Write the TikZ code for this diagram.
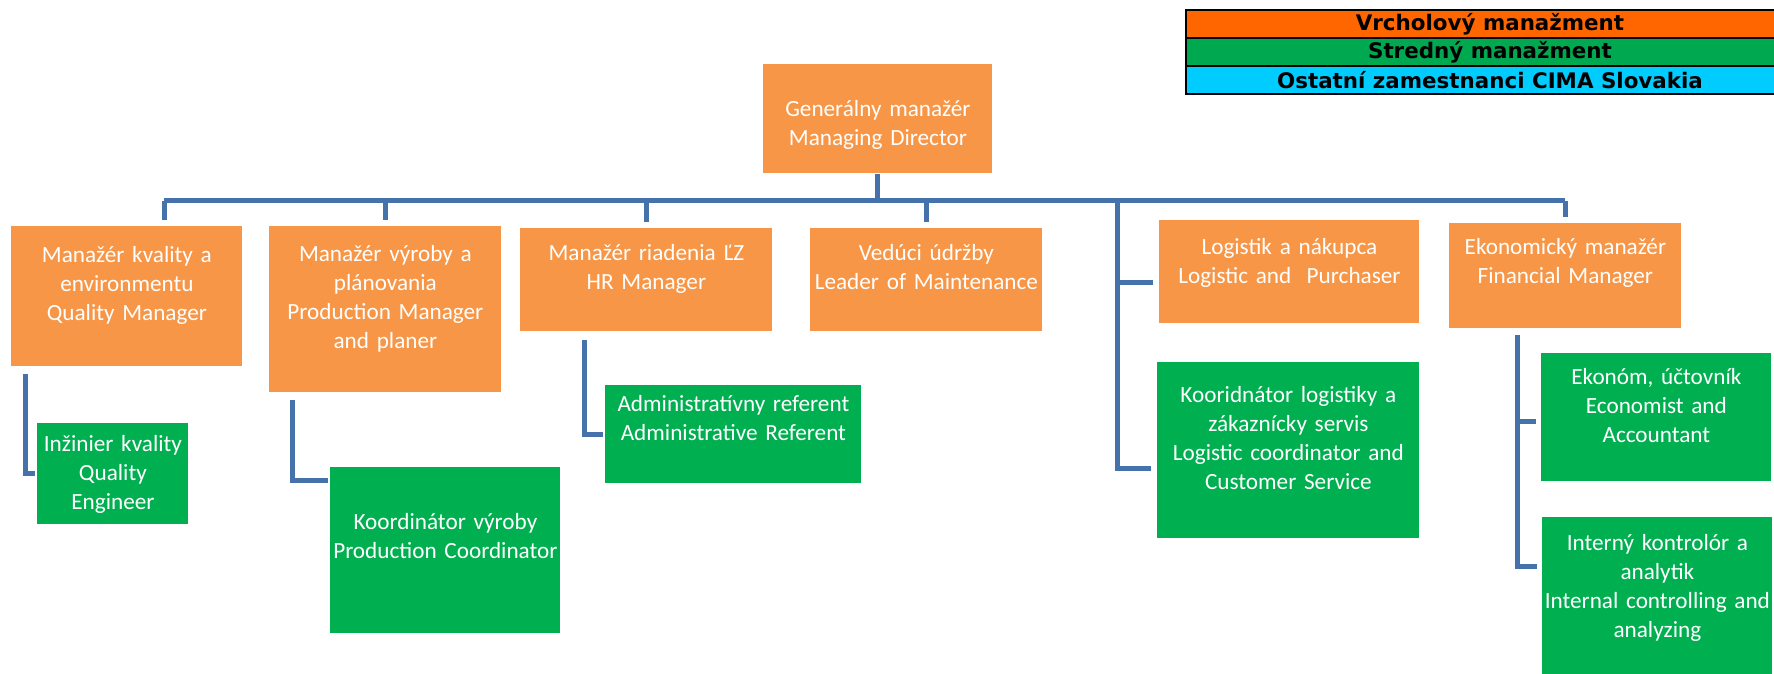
\documentclass[tikz,border=0pt]{standalone}
\usepackage{fontspec}
\setmainfont{Carlito}
\newfontfamily\legendfont{DejaVu Sans}
\usetikzlibrary{positioning,calc}
\definecolor{boxorange}{RGB}{247,150,70}
\definecolor{boxgreen}{RGB}{0,176,80}
\definecolor{connblue}{RGB}{70,114,172}
\definecolor{legorange}{RGB}{255,102,0}
\definecolor{leggreen}{RGB}{0,168,80}
\definecolor{legcyan}{RGB}{0,204,255}
\tikzset{
  orgbox/.style={anchor=north west, inner sep=0pt, align=center, text=white,
    font=\fontsize{11.6}{14.5}\selectfont},
  orangebox/.style={orgbox, fill=boxorange},
  greenbox/.style={orgbox, fill=boxgreen},
  conn/.style={draw=connblue, line width=2.5pt},
  legendrow/.style={draw=black, line width=1pt, outer sep=0pt, inner sep=0pt,
    minimum width=304pt, minimum height=14pt,
    font=\legendfont\bfseries\fontsize{10.7}{12}\selectfont}
}
\begin{document}
\begin{tikzpicture}[x=0.5pt, y=-0.5pt]
  \useasboundingbox (0,0) rectangle (1774,674);
  % legend
  \node[legendrow, fill=legorange, anchor=north west] (vm) at (1186,10) {Vrcholový manažment};
  \node[legendrow, fill=leggreen, below=0pt of vm] (sm) {Stredný manažment};
  \node[legendrow, fill=legcyan, below=0pt of sm] (oz) {Ostatní zamestnanci CIMA Slovakia};
  % managers
  \node[orangebox, text width=114.5pt, text height=26pt, text depth=28.5pt] (gm) at (763,64)
    {Generálny manažér\\Managing Director};
  \node[orangebox, text width=115.5pt, text height=18pt, text depth=52pt] (qm) at (11,226)
    {Manažér kvality a\\environmentu\\Quality Manager};
  \node[orangebox, text width=116pt, text height=17.5pt, text depth=65.5pt] (pm) at (269,226)
    {Manažér výroby a\\plánovania\\Production Manager\\and planer};
  \node[orangebox, text width=126pt, text height=16pt, text depth=35.5pt] (hr) at (520,228)
    {Manažér riadenia ĽZ\\HR Manager};
  \node[orangebox, text width=116pt, text height=16pt, text depth=35.5pt] (mt) at (810,228)
    {Vedúci údržby\\Leader of Maintenance};
  \node[orangebox, text width=130pt, text height=17pt, text depth=34.5pt] (lp) at (1159,220)
    {Logistik a nákupca\\Logistic and\ \ Purchaser};
  \node[orangebox, text width=116pt, text height=15.5pt, text depth=37pt] (fm) at (1449,223)
    {Ekonomický manažér\\Financial Manager};
  % staff
  \node[greenbox, text width=75.5pt, text height=14pt, text depth=36.5pt] (qe) at (37,423)
    {Inžinier kvality\\Quality\\Engineer};
  \node[greenbox, text width=115pt, text height=31pt, text depth=52pt] (pc) at (330,467)
    {Koordinátor výroby\\Production Coordinator};
  \node[greenbox, text width=128pt, text height=13pt, text depth=36pt] (ar) at (605,385)
    {Administratívny referent\\Administrative Referent};
  \node[greenbox, text width=131pt, text height=20pt, text depth=68pt] (lc) at (1157,362)
    {Kooridnátor logistiky a\\zákaznícky servis\\Logistic coordinator and\\Customer Service};
  \node[greenbox, text width=115pt, text height=15.5pt, text depth=48.5pt] (es) at (1541,353)
    {Ekonóm, účtovník\\Economist and\\Accountant};
  \node[greenbox, text width=115pt, text height=16.5pt, text depth=68.5pt] (ic) at (1542,517)
    {Interný kontrolór a\\analytik\\Internal controlling and\\analyzing};
  % connectors
  \coordinate (busL) at (164,201);
  \coordinate (lg) at (1117,201);
  \coordinate (lpb) at ($(lp.north west)!0.6!(lp.south west)$);
  \coordinate (lcb) at ($(lc.north west)!0.6!(lc.south west)$);
  \coordinate (pcb) at ($(pc.north west)!0.08!(pc.south west)$);
  \coordinate (fmb) at ($(fm.south west)+(68,6)$);
  \coordinate (esb) at ($(es.north west)!0.53!(es.south west)$);
  \coordinate (icb) at ($(ic.north west)!0.29!(ic.south west)$);
  \draw[conn] (gm.south) -- (gm.south |- busL);
  \draw[conn] (busL) -- (fm.north |- busL);
  \draw[conn, shorten >=3pt] (busL) -- (busL |- qm.north);
  \draw[conn, shorten >=3pt] (pm.north |- busL) -- (pm.north);
  \draw[conn, shorten >=3pt] (hr.north |- busL) -- (hr.north);
  \draw[conn, shorten >=3pt] (mt.north |- busL) -- (mt.north);
  \draw[conn, shorten >=3pt] (fm.north |- busL) -- (fm.north);
  \draw[conn, shorten >=3pt] (lg) |- (lcb);
  \draw[conn, shorten >=3pt] (lpb -| lg) -- (lpb);
  \draw[conn, shorten >=1pt] ($(qm.south west)+(14,7)$) |- (qe.west);
  \draw[conn, shorten >=1pt] ($(pm.south west)+(23,7)$) |- (pcb);
  \draw[conn, shorten >=1pt] ($(hr.south west)+(64,8)$) |- (ar.west);
  \draw[conn, shorten >=2.5pt] (fmb) |- (icb);
  \draw[conn, shorten >=2.5pt] (esb -| fmb) -- (esb);
\end{tikzpicture}
\end{document}
